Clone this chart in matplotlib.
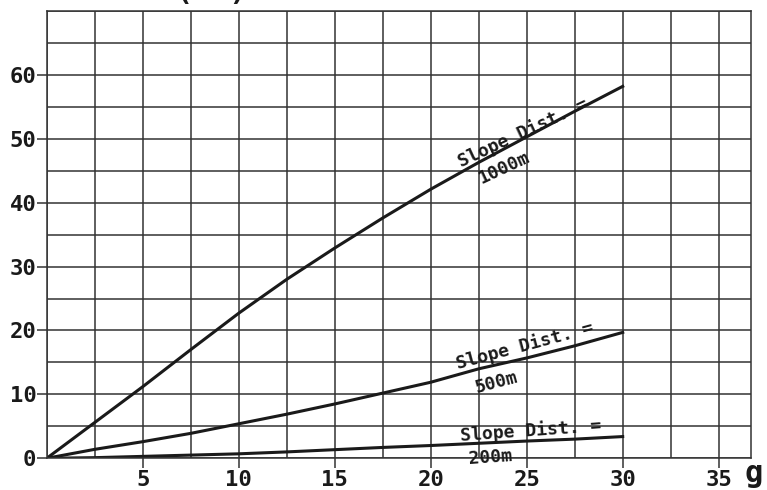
import matplotlib.pyplot as plt
from matplotlib.ticker import MultipleLocator

# angle in gon
grade = [0, 2.5, 5, 7.5, 10, 12.5, 15, 17.5, 20, 22.5, 25, 27.5, 30]
# values, one list per slope distance
d1000 = [0, 5.6, 11.2, 17.0, 22.7, 28.0, 32.9, 37.6, 42.1, 46.3, 50.3, 54.3, 58.2]
d500 = [0, 1.4, 2.6, 3.9, 5.4, 6.9, 8.5, 10.2, 11.9, 14.0, 15.7, 17.6, 19.7]
d200 = [0, 0.1, 0.3, 0.5, 0.7, 1.0, 1.35, 1.7, 2.0, 2.35, 2.7, 3.0, 3.4]

xticks = [5, 10, 15, 20, 25, 30, 35]
yticks = [0, 10, 20, 30, 40, 50, 60]

font = "DejaVu Sans Mono"

fig = plt.figure(figsize=(7.67, 4.90), dpi=100)
ax = fig.add_axes([0.0609, 0.0647, 0.9179, 0.9129])

ax.plot(grade, d1000, color="#1a1a1a", lw=2.2)
ax.plot(grade, d500, color="#1a1a1a", lw=2.2)
ax.plot(grade, d200, color="#1a1a1a", lw=2.2)

ax.set_xlim(0, 36.67)
ax.set_ylim(0, 70)
ax.set_xticks(xticks)
ax.set_yticks(yticks)
ax.xaxis.set_minor_locator(MultipleLocator(2.5))
ax.yaxis.set_minor_locator(MultipleLocator(5))
ax.grid(True, which="both", color="#333333", lw=1.1)
ax.set_axisbelow(True)
ax.tick_params(which="major", length=7.5, width=1.1, color="#333333", pad=1)
ax.tick_params(which="minor", length=0)
ax.tick_params(axis="y", pad=0)
for lab in ax.get_xticklabels() + ax.get_yticklabels():
    lab.set_fontfamily(font)
    lab.set_fontweight("bold")
    lab.set_fontsize(16)
    lab.set_color("#1a1a1a")
for sp in ax.spines.values():
    sp.set_color("#333333")
    sp.set_linewidth(1.1)

# curve labels
lbl = dict(family=font, fontweight="bold", fontsize=13, color="#1a1a1a",
           ha="center", va="center", rotation_mode="anchor")
ax.text(24.8, 51.0, "Slope Dist. =", rotation=25, **lbl)
ax.text(23.8, 45.5, "1000m", rotation=25, **lbl)
ax.text(24.9, 17.7, "Slope Dist. =", rotation=15, **lbl)
ax.text(23.4, 11.9, "500m", rotation=15, **lbl)
ax.text(25.2, 4.4, "Slope Dist. =", rotation=4, **lbl)
ax.text(23.1, 0.1, "200m", rotation=4, **lbl)

# axis unit at the right end and the clipped title at the top
fig.text(0.983, 0.005, "g", family=font, fontweight="bold", fontsize=22,
         ha="center", va="bottom", color="#1a1a1a")
fig.text(0.275, 1.0, "(mm)", family=font, fontweight="bold", fontsize=22,
         ha="center", va="baseline", color="#1a1a1a")

plt.savefig("out.png", dpi=100)
